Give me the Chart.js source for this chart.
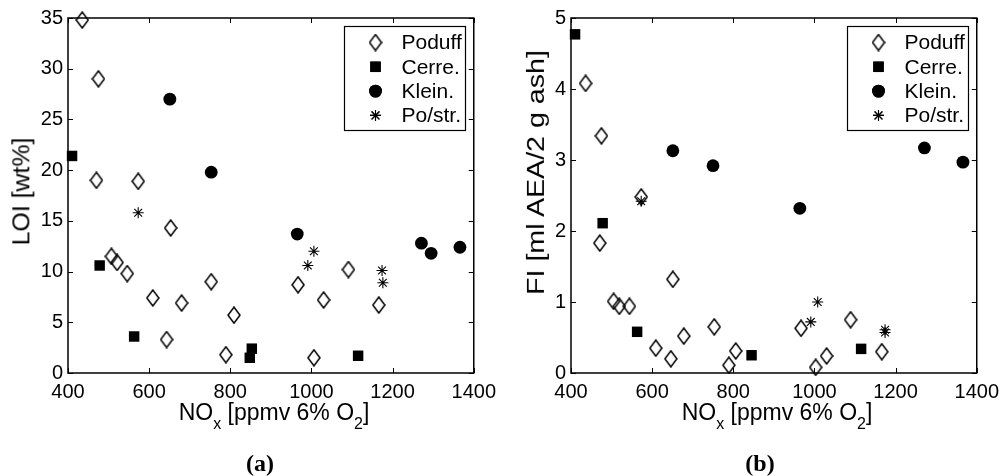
<!DOCTYPE html>
<html>
<head>
<meta charset="utf-8">
<script src="https://cdn.jsdelivr.net/npm/chart.js@4/dist/chart.umd.min.js"></script>
<style>
  body { margin: 0; background: #fff; width: 1006px; height: 476px; position: relative; overflow: hidden; }
  .panel { position: absolute; top: 0; width: 503px; height: 476px; }
  .xtitle { position: absolute; font-family: "Liberation Sans", Arial, sans-serif; font-size: 23px; color: #000; white-space: nowrap; transform: translateX(-50%); }
  .xtitle sub { font-size: 16px; vertical-align: -9px; }
  .ytitle { position: absolute; font-family: "Liberation Sans", Arial, sans-serif; font-size: 23px; color: #000; white-space: nowrap; line-height: 1; }
  .cap { position: absolute; font-family: "Liberation Serif", "DejaVu Serif", serif; font-weight: bold; font-size: 24px; transform: translateX(-50%); }
</style>
</head>
<body>
<div class="panel" style="left:0"><canvas id="chartA" width="503" height="476"></canvas></div>
<div class="panel" style="left:503px"><canvas id="chartB" width="503" height="476"></canvas></div>
<div class="xtitle" style="left:274px; top:399px">NO<sub>x</sub> [ppmv 6% O<sub>2</sub>]</div>
<div class="xtitle" style="left:777px; top:399px">NO<sub>x</sub> [ppmv 6% O<sub>2</sub>]</div>
<div class="ytitle" id="ytA">LOI [wt%]</div>
<div class="ytitle" id="ytB">FI [ml AEA/2 g ash]</div>
<div class="cap" style="left:260px; top:450px">(a)</div>
<div class="cap" style="left:760px; top:450px">(b)</div>
<script>
// series names
const seriesNames = ['Poduff', 'Cerre.', 'Klein.', 'Po/str.'];

// x axis ticks (both panels)
const noxTicks = [400, 600, 800, 1000, 1200, 1400];

// panel (a): LOI [wt%]
const poduffNoxA = [435, 475, 470, 573, 653, 507, 521, 546, 609, 680, 753, 809, 643, 789, 967, 1030, 1091, 1166, 1006];
const poduffLoi  = [34.8, 29.0, 19.0, 18.9, 14.3, 11.5, 10.9, 9.8, 7.4, 6.9, 9.0, 5.7, 3.3, 1.8, 8.7, 7.2, 10.2, 6.7, 1.5];
const cerreNoxA  = [410, 478, 563, 853, 848, 1115];
const cerreLoi   = [21.4, 10.6, 3.6, 2.4, 1.5, 1.7];
const kleinNoxA  = [651, 753, 965, 1271, 1295, 1366];
const kleinLoi   = [27.0, 19.8, 13.7, 12.8, 11.8, 12.4];
const postrNoxA  = [573, 1006, 991, 1174, 1176];
const postrLoi   = [15.8, 12.0, 10.6, 10.1, 8.9];
const loiTicks   = [0, 5, 10, 15, 20, 25, 30, 35];

// panel (b): FI [ml AEA/2 g ash]
const poduffNoxB = [436, 475, 573, 471, 651, 505, 519, 544, 609, 646, 678, 753, 806, 789, 967, 1089, 1166, 1030, 1003];
const poduffFi   = [4.08, 3.34, 2.48, 1.83, 1.32, 1.01, 0.94, 0.94, 0.35, 0.20, 0.52, 0.65, 0.31, 0.11, 0.63, 0.75, 0.30, 0.24, 0.08];
const cerreNoxB  = [410, 478, 563, 845, 1115];
const cerreFi    = [4.77, 2.11, 0.58, 0.25, 0.34];
const kleinNoxB  = [651, 750, 964, 1271, 1366];
const kleinFi    = [3.13, 2.92, 2.32, 3.17, 2.97];
const postrNoxB  = [573, 1008, 991, 1174, 1174];
const postrFi    = [2.42, 1.00, 0.72, 0.61, 0.57];
const fiTicks    = [0, 1, 2, 3, 4, 5];

const tickFont = { family: 'Liberation Sans', size: 20 };

//rotated y titles, stretched along the text like the (tall) original font
function placeYTitle(id, cx, cy, len) {
    const el = document.getElementById(id);
    const w = el.offsetWidth, h = el.offsetHeight;
    el.style.left = (cx - w / 2) + 'px';
    el.style.top = (cy - h / 2) + 'px';
    el.style.transform = 'rotate(-90deg) scaleX(' + (len / w).toFixed(3) + ')';
}
placeYTitle('ytA', 22, 191, 108);
placeYTitle('ytB', 536, 172, 245);

//open diamond marker, a bit taller than wide like matlab
function makeDiamond() {
    const c = document.createElement('canvas');
    c.width = 14; c.height = 18;
    const g = c.getContext('2d');
    g.strokeStyle = '#000';
    g.lineWidth = 1.5;
    g.beginPath();
    g.moveTo(7, 1);
    g.lineTo(13, 9);
    g.lineTo(7, 17);
    g.lineTo(1, 9);
    g.closePath();
    g.stroke();
    return c;
}
const diamond = makeDiamond();

function toPoints(xs, ys) {
    return xs.map((x, i) => ({ x: x, y: ys[i] }));
}

// marker style per series
const markerStyles = [
    { pointStyle: diamond, pointRadius: 7, backgroundColor: 'rgba(0,0,0,0)', borderColor: '#000', borderWidth: 1 },
    { pointStyle: 'rect', pointRadius: 7.4, backgroundColor: '#000', borderColor: '#000', borderWidth: 0 },
    { pointStyle: 'circle', pointRadius: 6.4, backgroundColor: '#000', borderColor: '#000', borderWidth: 0 },
    { pointStyle: 'star', pointRadius: 5.5, backgroundColor: '#000', borderColor: '#000', borderWidth: 1.1 }
];

//box, inward ticks and the boxed legend
const boxPlugin = {
    id: 'boxPlugin',
    afterDraw(chart) {
        const ctx = chart.ctx;
        const a = chart.chartArea;
        const xs = chart.scales.x, ys = chart.scales.y;
        ctx.save();
        ctx.strokeStyle = '#000';
        ctx.lineWidth = 1;
        ctx.beginPath();
        xs.ticks.forEach(t => {
            const px = Math.round(xs.getPixelForValue(t.value)) + 0.5;
            ctx.moveTo(px, a.bottom); ctx.lineTo(px, a.bottom - 5);
            ctx.moveTo(px, a.top); ctx.lineTo(px, a.top + 5);
        });
        ys.ticks.forEach(t => {
            const py = Math.round(ys.getPixelForValue(t.value)) + 0.5;
            ctx.moveTo(a.left, py); ctx.lineTo(a.left + 5, py);
            ctx.moveTo(a.right, py); ctx.lineTo(a.right - 5, py);
        });
        ctx.stroke();
        ctx.lineWidth = 1.5;
        ctx.strokeRect(a.left, a.top, a.right - a.left, a.bottom - a.top);

        // legend
        const bw = 121, bh = 104;
        const bx = Math.round(a.right - 9 - bw) + 0.5, by = Math.round(a.top + 8) + 0.5;
        ctx.fillStyle = '#fff';
        ctx.fillRect(bx, by, bw, bh);
        ctx.lineWidth = 1.2;
        ctx.strokeRect(bx, by, bw, bh);
        ctx.font = '21px "Liberation Sans"';
        ctx.textBaseline = 'middle';
        ctx.textAlign = 'left';
        chart.data.datasets.forEach((ds, i) => {
            const cy = by + 16 + i * 24.3;
            const cx = bx + 31;
            ctx.fillStyle = '#000';
            ctx.strokeStyle = '#000';
            ctx.lineWidth = ds.borderWidth;
            Chart.helpers.drawPoint(ctx, {
                pointStyle: ds.pointStyle,
                radius: ds.pointRadius,
                borderWidth: ds.borderWidth,
                rotation: 0
            }, cx, cy);
            if (ds.pointStyle !== diamond) {
                ctx.fill();
            }
            if (ds.borderWidth > 0 && ds.pointStyle !== diamond) ctx.stroke();
            ctx.fillStyle = '#000';
            ctx.fillText(ds.label, bx + 57, cy + 1);
        });
        ctx.restore();
    }
};

function buildChart(canvasId, series, yTicks) {
    const datasets = series.map((pts, i) => Object.assign({
        label: seriesNames[i],
        data: pts,
        clip: false
    }, markerStyles[i]));

    return new Chart(document.getElementById(canvasId), {
        type: 'scatter',
        data: { datasets },
        options: {
            responsive: false,
            animation: false,
            layout: { padding: { top: 18, right: 24, bottom: 73, left: 0 } },
            plugins: {
                legend: { display: false },
                tooltip: { enabled: false }
            },
            scales: {
                x: {
                    min: noxTicks[0],
                    max: noxTicks[noxTicks.length - 1],
                    afterBuildTicks: (s) => { s.ticks = noxTicks.map(v => ({ value: v })); },
                    grid: { display: false, drawTicks: false },
                    border: { display: false },
                    ticks: { color: '#000', font: tickFont, padding: 7, maxRotation: 0, autoSkip: false, callback: (v) => String(v) },
                    afterFit: (s) => { s.height = 30; }
                },
                y: {
                    min: yTicks[0],
                    max: yTicks[yTicks.length - 1],
                    afterBuildTicks: (s) => { s.ticks = yTicks.map(v => ({ value: v })); },
                    grid: { display: false, drawTicks: false },
                    border: { display: false },
                    ticks: { color: '#000', font: tickFont, padding: 5, autoSkip: false, callback: (v) => String(v) },
                    afterFit: (s) => { s.width = 68; }
                }
            }
        },
        plugins: [boxPlugin]
    });
}

buildChart('chartA', [
    toPoints(poduffNoxA, poduffLoi),
    toPoints(cerreNoxA, cerreLoi),
    toPoints(kleinNoxA, kleinLoi),
    toPoints(postrNoxA, postrLoi)
], loiTicks);

buildChart('chartB', [
    toPoints(poduffNoxB, poduffFi),
    toPoints(cerreNoxB, cerreFi),
    toPoints(kleinNoxB, kleinFi),
    toPoints(postrNoxB, postrFi)
], fiTicks);
</script>
</body>
</html>
